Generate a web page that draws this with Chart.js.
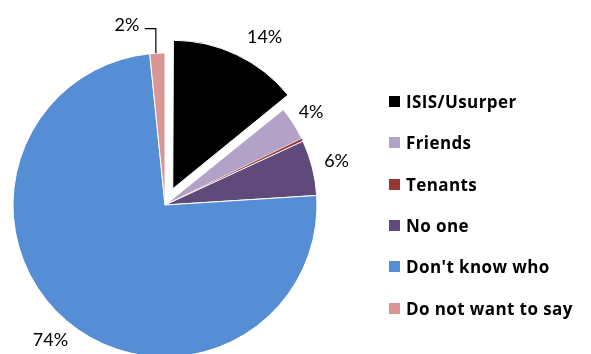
<!DOCTYPE html>
<html>
<head>
<meta charset="utf-8">
<script src="https://cdn.jsdelivr.net/npm/chart.js@4.4.0/dist/chart.umd.min.js"></script>
<style>
  html, body { margin: 0; padding: 0; background: #fff; }
  #wrap { position: relative; width: 591px; height: 354px; overflow: hidden; }
  #legenda { position: absolute; left: 389px; top: 81px; font-family: "Open Sans", Lato, sans-serif; font-weight: bold; font-size: 17px; letter-spacing: 0.4px; color: #000; }
  #legenda .item { height: 41.3px; display: flex; align-items: center; white-space: nowrap; }
  #legenda .caixa { width: 11px; height: 11px; margin-right: 6px; flex: none; }
</style>
</head>
<body>
<div id="wrap">
  <canvas id="grafico" width="591" height="354"></canvas>
  <div id="legenda"></div>
</div>
<script>
const categorias = ['ISIS/Usurper', 'Friends', 'Tenants', 'No one', "Don't know who", 'Do not want to say'];
const percentuais = [14.2, 3.6, 0.3, 5.9, 74.4, 1.6];
const cores = ['#000000', '#b3a2c7', '#953735', '#604a7b', '#558ed5', '#d99694'];
const destaque = [72, 0, 0, 0, 0, 0]; // fatia do ISIS separada (chart.js desloca offset/4)

const RAIO = 152;
const RAIO_DESTACADO = 148.5;

// a fatia separada fica um pouco menor que as outras
const raioDestaque = {
  id: 'raioDestaque',
  beforeDatasetsDraw(chart) {
    chart.getDatasetMeta(0).data.forEach((arc, i) => {
      if (!destaque[i]) return;
      const circ = arc.endAngle - arc.startAngle;
      const fix = 1 - Math.sin(Math.min(Math.PI, circ));
      arc.outerRadius = RAIO_DESTACADO - (destaque[i] / 4) * fix;
    });
  }
};

// rótulos de porcentagem fora das fatias
const rotulos = {
  id: 'rotulos',
  afterDatasetsDraw(chart) {
    const ctx = chart.ctx;
    const meta = chart.getDatasetMeta(0);
    ctx.save();
    ctx.font = '18px Lato, "Open Sans", sans-serif';
    ctx.fillStyle = '#000';
    ctx.textBaseline = 'middle';
    meta.data.forEach((arc, i) => {
      const v = percentuais[i];
      if (v < 1) return;
      const txt = Math.round(v) + '%';
      const meio = (arc.startAngle + arc.endAngle) / 2;
      const off = destaque[i] / 4;
      if (v < 3) {
        // fatia pequena: linha guia até o rótulo
        const px = arc.x + Math.cos(meio) * RAIO;
        const py = arc.y + Math.sin(meio) * RAIO;
        ctx.strokeStyle = '#000';
        ctx.lineWidth = 1.2;
        ctx.beginPath();
        ctx.moveTo(px - 1.5, py);
        ctx.lineTo(px - 1.5, py - 24.5);
        ctx.lineTo(px - 12.5, py - 24.5);
        ctx.stroke();
        ctx.textAlign = 'right';
        ctx.fillText(txt, px - 18, py - 28);
        return;
      }
      const ajuste = i === 0 ? 0.09 : 0;
      const ang = meio + ajuste;
      const d = RAIO + off + (i === 1 ? 21 : 25);
      ctx.textAlign = 'center';
      ctx.fillText(txt, arc.x + Math.cos(ang) * d, arc.y + Math.sin(ang) * d);
    });
    ctx.restore();
  }
};

const ctx = document.getElementById('grafico').getContext('2d');

const grafico = new Chart(ctx, {
  type: 'pie',
  data: {
    labels: categorias,
    datasets: [{
      data: percentuais,
      backgroundColor: cores,
      borderColor: '#ffffff',
      borderWidth: [1, 1, 0.3, 1, 1, 1],
      offset: destaque,
      clip: false
    }]
  },
  options: {
    responsive: false,
    animation: false,
    radius: RAIO,
    layout: { padding: { left: 0, right: 261, top: 56, bottom: 0 } },
    plugins: {
      legend: { display: false },
      tooltip: { enabled: false }
    }
  },
  plugins: [raioDestaque, rotulos]
});

// legenda montada a partir das categorias
const legenda = document.getElementById('legenda');
categorias.forEach((nome, i) => {
  const item = document.createElement('div');
  item.className = 'item';
  const caixa = document.createElement('span');
  caixa.className = 'caixa';
  caixa.style.background = cores[i];
  const texto = document.createElement('span');
  texto.textContent = nome;
  item.appendChild(caixa);
  item.appendChild(texto);
  legenda.appendChild(item);
});
</script>
</body>
</html>
